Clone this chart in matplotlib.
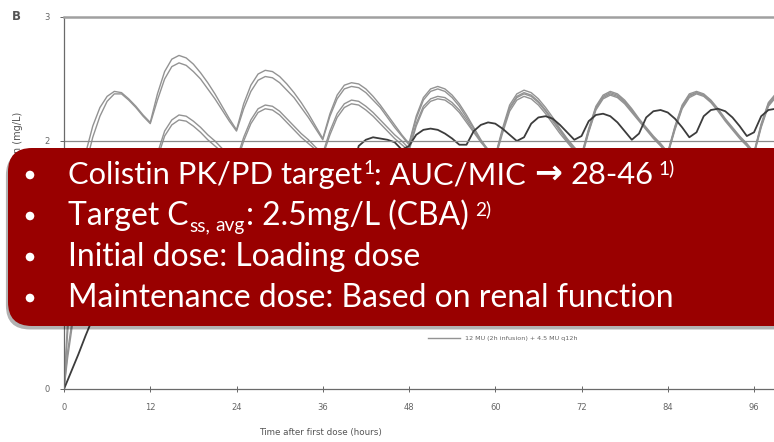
import matplotlib
matplotlib.use("Agg")
import matplotlib.pyplot as plt
from matplotlib.patches import FancyBboxPatch, Circle
import matplotlib.patheffects as pe

# time after first dose (hours)
hours = [0, 0.5, 1, 2, 3, 4, 5, 6, 7, 8, 9, 10, 11, 12,
         13, 14, 15, 16, 17, 18, 19, 20, 21, 22, 23, 24,
         25, 26, 27, 28, 29, 30, 31, 32, 33, 34, 35, 36,
         37, 38, 39, 40, 41, 42, 43, 44, 45, 46, 47, 48,
         49, 50, 51, 52, 53, 54, 55, 56, 57, 58, 59, 60,
         61, 62, 63, 64, 65, 66, 67, 68, 69, 70, 71, 72,
         73, 74, 75, 76, 77, 78, 79, 80, 81, 82, 83, 84,
         85, 86, 87, 88, 89, 90, 91, 92, 93, 94, 95, 96,
         97, 98, 99]

# plasma colistin (mg/L)
conc_a = [0, 0.55, 0.95, 1.5, 1.9, 2.12, 2.27, 2.36, 2.40, 2.39, 2.34, 2.28, 2.21, 2.15,
          2.38, 2.56, 2.66, 2.69, 2.67, 2.62, 2.55, 2.47, 2.38, 2.28, 2.18, 2.09,
          2.30, 2.45, 2.54, 2.57, 2.56, 2.52, 2.46, 2.39, 2.31, 2.22, 2.12, 2.02,
          2.22, 2.37, 2.45, 2.47, 2.46, 2.42, 2.36, 2.29, 2.21, 2.13, 2.05, 1.98,
          2.20, 2.35, 2.42, 2.44, 2.42, 2.37, 2.30, 2.21, 2.11, 2.01, 1.93, 1.88,
          2.10, 2.29, 2.38, 2.41, 2.39, 2.34, 2.27, 2.19, 2.10, 2.02, 1.95, 1.89,
          2.10, 2.28, 2.37, 2.40, 2.38, 2.33, 2.26, 2.18, 2.11, 2.04, 1.98, 1.91,
          2.12, 2.29, 2.38, 2.40, 2.38, 2.33, 2.26, 2.18, 2.11, 2.04, 1.98, 1.91,
          2.14, 2.31, 2.38]
conc_b = [0, 0.45, 0.82, 1.38, 1.8, 2.03, 2.2, 2.32, 2.38, 2.38, 2.33, 2.27, 2.2, 2.14,
          2.33, 2.5, 2.6, 2.63, 2.61, 2.56, 2.5, 2.42, 2.34, 2.25, 2.16, 2.08,
          2.26, 2.4, 2.49, 2.52, 2.51, 2.47, 2.41, 2.35, 2.27, 2.19, 2.1, 2.01,
          2.2, 2.34, 2.42, 2.44, 2.43, 2.39, 2.33, 2.27, 2.19, 2.11, 2.04, 1.97,
          2.18, 2.33, 2.4, 2.42, 2.4, 2.35, 2.28, 2.19, 2.1, 2.0, 1.92, 1.87,
          2.08, 2.27, 2.36, 2.39, 2.37, 2.32, 2.25, 2.17, 2.09, 2.01, 1.94, 1.88,
          2.09, 2.27, 2.36, 2.39, 2.37, 2.32, 2.25, 2.17, 2.1, 2.03, 1.97, 1.9,
          2.11, 2.28, 2.37, 2.39, 2.37, 2.32, 2.25, 2.17, 2.1, 2.03, 1.97, 1.9,
          2.13, 2.3, 2.37]
conc_c = [0, 0.3, 0.5, 0.95, 1.3, 1.55, 1.68, 1.74, 1.75, 1.73, 1.69, 1.65, 1.61, 1.58,
          1.9, 2.08, 2.17, 2.21, 2.2, 2.16, 2.11, 2.05, 2.0, 1.94, 1.88, 1.85,
          2.03, 2.17, 2.26, 2.29, 2.28, 2.24, 2.18, 2.12, 2.06, 2.01, 1.95, 1.9,
          2.08, 2.22, 2.3, 2.33, 2.32, 2.28, 2.23, 2.17, 2.11, 2.05, 2.0, 1.94,
          2.14, 2.28, 2.34, 2.36, 2.35, 2.31, 2.25, 2.17, 2.08, 2.0, 1.93, 1.87,
          2.08, 2.26, 2.35, 2.38, 2.36, 2.31, 2.24, 2.16, 2.08, 2.0, 1.93, 1.87,
          2.08, 2.26, 2.35, 2.38, 2.36, 2.31, 2.24, 2.17, 2.1, 2.03, 1.97, 1.9,
          2.1, 2.27, 2.36, 2.39, 2.37, 2.32, 2.25, 2.17, 2.1, 2.03, 1.97, 1.9,
          2.12, 2.29, 2.36]
conc_d = [0, 0.25, 0.45, 0.88, 1.22, 1.47, 1.61, 1.68, 1.7, 1.69, 1.66, 1.62, 1.58, 1.55,
          1.86, 2.04, 2.13, 2.17, 2.16, 2.12, 2.07, 2.01, 1.96, 1.91, 1.86, 1.82,
          2.0, 2.14, 2.23, 2.26, 2.25, 2.21, 2.15, 2.09, 2.03, 1.98, 1.93, 1.88,
          2.05, 2.19, 2.27, 2.3, 2.29, 2.25, 2.2, 2.14, 2.08, 2.02, 1.97, 1.92,
          2.12, 2.26, 2.32, 2.34, 2.33, 2.29, 2.23, 2.15, 2.07, 1.99, 1.92, 1.86,
          2.06, 2.24, 2.33, 2.36, 2.34, 2.29, 2.22, 2.14, 2.06, 1.99, 1.92, 1.86,
          2.07, 2.25, 2.34, 2.37, 2.35, 2.3, 2.23, 2.16, 2.09, 2.02, 1.96, 1.89,
          2.09, 2.26, 2.35, 2.38, 2.36, 2.31, 2.24, 2.16, 2.09, 2.02, 1.96, 1.89,
          2.11, 2.28, 2.35]
conc_e = [0, 0.07, 0.14, 0.28, 0.43, 0.57, 0.7, 0.82, 0.92, 0.98, 1.08, 1.18, 1.24, 1.26,
          1.25, 1.22, 1.19, 1.2, 1.3, 1.38, 1.42, 1.43, 1.41, 1.38, 1.35, 1.36,
          1.46, 1.54, 1.58, 1.59, 1.58, 1.55, 1.51, 1.52, 1.63, 1.71, 1.75, 1.76,
          1.75, 1.72, 1.68, 1.72, 1.96, 2.01, 2.03, 2.02, 2.01, 1.99, 1.93, 1.96,
          2.05, 2.09, 2.10, 2.09, 2.06, 2.02, 1.97, 1.97, 2.08, 2.13, 2.15, 2.14,
          2.1, 2.05, 2.0, 2.03, 2.14, 2.19, 2.2, 2.18, 2.13, 2.07, 2.01, 2.04,
          2.16, 2.21, 2.22, 2.2, 2.15, 2.08, 2.01, 2.06, 2.19, 2.24, 2.25, 2.23,
          2.18, 2.11, 2.03, 2.07, 2.2, 2.25, 2.26, 2.24, 2.19, 2.12, 2.04, 2.07,
          2.2, 2.25, 2.26]

x_ticks = [0, 12, 24, 36, 48, 60, 72, 84, 96]
y_ticks = [0, 1, 2, 3]
legend_label = "12 MU (2h infusion) + 4.5 MU q12h"

bullets = [
    "Colistin PK/PD target",
    "Target C",
    "Initial dose: Loading dose",
    "Maintenance dose: Based on renal function",
]

fig = plt.figure(figsize=(7.74, 4.42), dpi=100, facecolor="white")
ax = fig.add_axes([64 / 774, 53 / 442, 710 / 774, 372 / 442])

gray = "#939393"
la, = ax.plot(hours, conc_a, color=gray, lw=1.0)
ax.plot(hours, conc_b, color=gray, lw=1.0)
ax.plot(hours, conc_c, color=gray, lw=1.0)
ax.plot(hours, conc_d, color=gray, lw=1.0)
ax.plot(hours, conc_e, color="#3c3c3c", lw=1.3)
ax.axhline(2, color="#8a8a8a", lw=0.9)

ax.set_xlim(0, 98.78)
ax.set_ylim(0, 3)
ax.set_xticks(x_ticks)
ax.set_yticks(y_ticks)
ax.tick_params(axis="x", direction="inout", length=4, width=0.7, pad=8,
               labelsize=6, colors="#666666")
ax.tick_params(axis="y", direction="out", length=3, width=0.7, pad=7,
               labelsize=6, colors="#666666")
ax.spines["right"].set_visible(False)
ax.spines["top"].set_color("#a0a0a0")
ax.spines["top"].set_linewidth(1.8)
for s in ["left", "bottom"]:
    ax.spines[s].set_color("#6a6a6a")
    ax.spines[s].set_linewidth(0.9)

ax.legend([la], [legend_label], loc="center left",
          bbox_to_anchor=((422 - 64) / 710, (442 - 338 - 53) / 372),
          frameon=False, fontsize=4.6, handlelength=5, labelcolor="#666666")

fig.text(320 / 774, 1 - 433 / 442, "Time after first dose (hours)",
         ha="center", va="center", fontsize=6.3, color="#555555")
fig.text(18 / 774, 1 - 112 / 442, "Plasma colistin concentration (mg/L)",
         rotation=90, ha="center", va="top", fontsize=7, color="#555555")
fig.text(12 / 774, 1 - 17 / 442, "B", fontweight="bold", fontsize=8.5,
         color="#555555", va="center")

# red call-out box on top
ov = fig.add_axes([0, 0, 1, 1], zorder=5)
ov.set_xlim(0, 774)
ov.set_ylim(442, 0)
ov.axis("off")
box = FancyBboxPatch((8, 148), 820, 178, boxstyle="round,pad=0,rounding_size=24",
                     fc="#990000", ec="none", zorder=1,
                     path_effects=[pe.withSimplePatchShadow(offset=(-1.5, -2.5),
                                                            shadow_rgbFace="black",
                                                            alpha=0.3)])
ov.add_patch(box)

FAM = ["Lato", "DejaVu Sans"]
renderer = fig.canvas.get_renderer()


def width_of(s, size, family=FAM, weight="normal"):
    t = ov.text(0, 0, s, fontsize=size, family=family, fontweight=weight)
    w = t.get_window_extent(renderer).width
    t.remove()
    return w


def piece(x, y, s, size, family=FAM, weight="normal"):
    t = ov.text(x, y, s, fontsize=size, family=family, fontweight=weight,
                color="white", va="baseline", ha="left", zorder=3)
    return x + t.get_window_extent(renderer).width


fs = 20 * 606 / width_of(bullets[3], 20)
sp = width_of("n n", fs) - width_of("nn", fs)
small = fs * 0.6
baselines = [184, 225, 266, 307]

for yb in baselines:
    ov.add_patch(Circle((30, yb - 9), 4.3, fc="white", ec="none", zorder=3))

x = piece(68, baselines[0], bullets[0], fs * 0.97)
x = piece(x + 1, baselines[0] - 10, "1", small)
x = piece(x, baselines[0], ": AUC/MIC", fs * 0.97)
x = piece(x + sp, baselines[0] - 1, "\u2192", fs * 1.05, family=["DejaVu Sans"], weight="bold")
x = piece(x + sp, baselines[0], "28-46", fs * 0.97)
x = piece(x + sp * 0.7, baselines[0] - 10, "1)", small)

x = piece(68, baselines[1], bullets[1], fs)
x = piece(x + 1, baselines[1] + 6, "ss,", small)
x = piece(x + sp * 0.6, baselines[1] + 6, "avg", small)
x = piece(x + 1, baselines[1], ": 2.5mg/L (CBA)", fs)
x = piece(x + sp * 0.8, baselines[1] - 10, "2)", small)

piece(68, baselines[2], bullets[2], fs)
piece(68, baselines[3], bullets[3], fs)

fig.savefig("out.png", dpi=100, facecolor="white")
